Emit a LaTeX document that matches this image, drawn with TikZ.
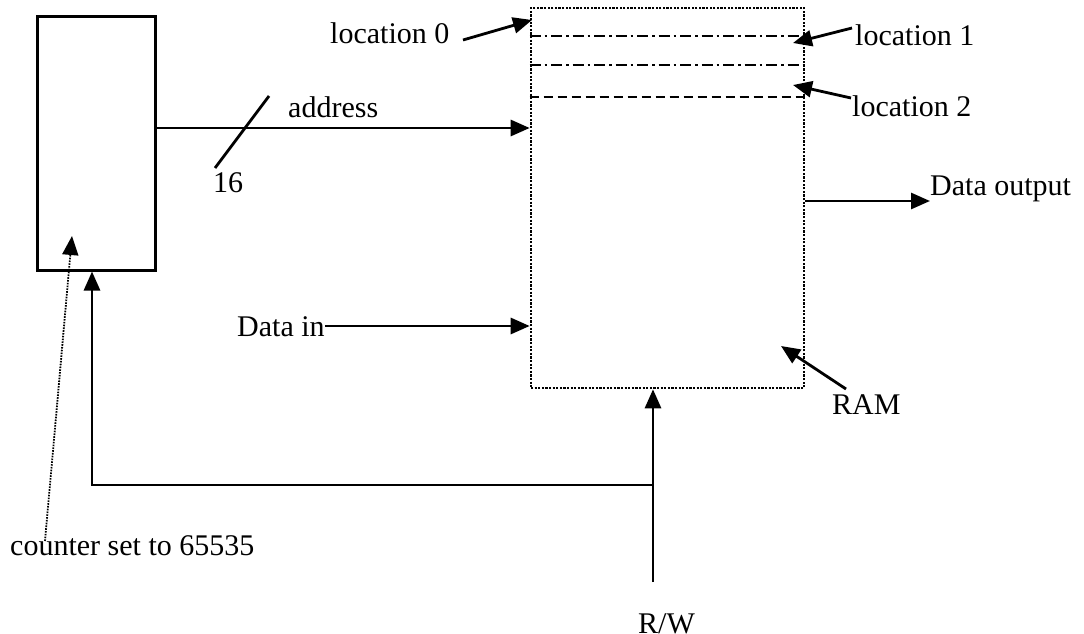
\documentclass[tikz,border=0pt]{standalone}
\usepackage{fontspec}
\setmainfont{Liberation Serif}
\usetikzlibrary{arrows.meta}
\begin{document}
\begin{tikzpicture}[x=1pt,y=-1pt,
  lbl/.style={inner sep=0pt,font=\fontsize{30}{36}\selectfont},
  wire/.style={line width=2.8pt},
  arr/.style={wire,-{Triangle[length=19pt,width=16pt]}},
  boxc/.style={draw,line width=3pt,inner sep=0pt},
  ramb/.style={draw,line width=2.6pt,dash pattern=on 2.2pt off 1.4pt,inner sep=0pt}]
\useasboundingbox (0,0) rectangle (1084,634);
% boxes
\node[boxc,minimum width=118pt,minimum height=253pt] (cnt) at (96,143.5) {};
\node[ramb,minimum width=273pt,minimum height=380pt] (ram) at (667.5,198) {};
% internal location lines
\draw[line width=2.3pt,dash pattern=on 11pt off 4pt on 2.5pt off 4pt] (ram.west |- 0,36) coordinate (l1a) -- (ram.east |- 0,36) coordinate (l1b);
\draw[line width=2.3pt,dash pattern=on 11pt off 4pt on 2.5pt off 4pt] (ram.west |- 0,65) coordinate (l2a) -- (ram.east |- 0,65) coordinate (l2b);
\draw[line width=2.3pt,dash pattern=on 9pt off 5pt] (ram.west |- 0,97) coordinate (l3a) -- (ram.east |- 0,97) coordinate (l3b);
% labels
\node[lbl,anchor=base west] (loc0) at (330,44) {location 0};
\node[lbl,anchor=base west] (loc1) at (855,46) {location 1};
\node[lbl,anchor=base west] (loc2) at (852,116) {location 2};
\node[lbl,anchor=base west] (addr) at (288,117) {address};
\node[lbl,anchor=base west] (n16) at (213,192) {16};
\node[lbl,anchor=base west] (dout) at (930,195) {Data output};
\node[lbl,anchor=base west] (din) at (237,336) {Data in};
\node[lbl,anchor=base west] (ramlbl) at (832,414) {RAM};
\node[lbl,anchor=base west] (rw) at (638,633) {R/W};
\node[lbl,anchor=base west] (ctr) at (10,555) {counter set to 65535};
% location pointers
\coordinate (p0s) at (463,40);
\coordinate (p0e) at (532,20);
\draw[arr] (p0s) -- (p0e);
\coordinate (p1s) at (852,28);
\coordinate (p1e) at (793,43);
\draw[arr] (p1s) -- (p1e);
\coordinate (p2s) at (851,98);
\coordinate (p2e) at (793,85);
\draw[arr] (p2s) -- (p2e);
% address bus
\draw[arr] (cnt.east |- 0,128) -- (ram.west |- 0,128);
\coordinate (sl1) at (269,96);
\coordinate (sl2) at (215,168);
\draw[wire] (sl1) -- (sl2);
% data output
\coordinate (doe) at (930,201);
\draw[arr] (ram.east |- doe) -- (doe);
% data in
\draw[arr] (din.east |- 0,326) -- (ram.west |- 0,326);
% RAM pointer
\coordinate (rs) at (846,389);
\coordinate (re) at (781,346);
\draw[arr] (rs) -- (re);
% R/W
\coordinate (rwb) at (653,582);
\coordinate (jn) at (653,485);
\draw[arr] (rwb) -- (ram.south -| rwb);
\coordinate (cl) at (92,485);
\draw[arr] (jn) -- (cl) -- (cnt.south -| cl);
% dotted counter pointer
\coordinate (ds) at (45,541);
\coordinate (de) at (72,236);
\draw[line width=1.8pt,dash pattern=on 1.6pt off 1.2pt,-{Triangle[length=19pt,width=16pt]}] (ds) -- (de);
\end{tikzpicture}
\end{document}
